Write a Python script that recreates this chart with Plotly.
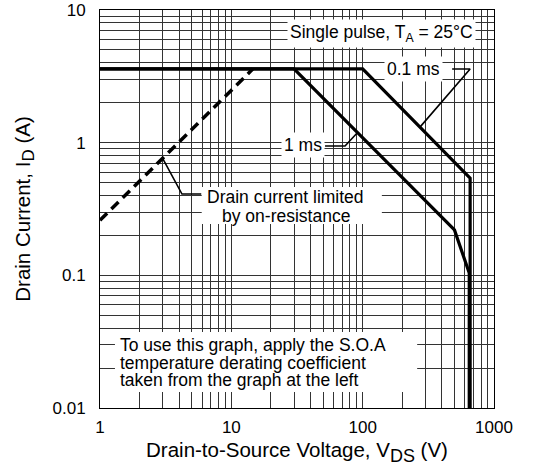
import math
import plotly.graph_objects as go

# ---- data ----
rds_x = [1, 14.6]          # drain current limited by on-resistance (dashed)
rds_y = [0.26, 3.6]

ms01_x = [1, 100, 658, 658]   # 0.1 ms boundary
ms01_y = [3.6, 3.6, 0.54, 0.01]

ms1_x = [1, 30, 500, 648, 648]  # 1 ms boundary
ms1_y = [3.6, 3.6, 0.22, 0.104, 0.01]

# leader lines for the labels
lead_rds_x = [3.02, 4.21, 5.9]
lead_rds_y = [0.753, 0.41, 0.41]
lead_1ms_x = [51.7, 73.4, 92.2]
lead_1ms_y = [0.944, 0.944, 1.205]
lead_01ms_x = [480, 658, 273]
lead_01ms_y = [3.59, 3.59, 1.31]

x_ticks = [m * 10 ** e for e in range(0, 3) for m in range(1, 10)] + [1000]
y_ticks = [round(m * 10 ** e, 6) for e in range(-2, 1) for m in range(1, 10)] + [10]
x_labels = {1: "1", 10: "10", 100: "100", 1000: "1000"}
y_labels = {0.01: "0.01", 0.1: "0.1", 1: "1", 10: "10"}

note_lines = ["To use this graph, apply the S.O.A",
              "temperature derating coefficient",
              "taken from the graph at the left"]
note_y = [0.0299, 0.0219, 0.0163]
rds_lines = ["Drain current limited", "by on-resistance"]
rds_text_y = [0.39, 0.28]

FONT = "Liberation Sans, Arial, sans-serif"
AFS = 17.5

fig = go.Figure()
fig.add_trace(go.Scatter(x=rds_x, y=rds_y, mode="lines",
                         line=dict(color="black", width=3.5, dash="10px,6px")))
fig.add_trace(go.Scatter(x=ms01_x, y=ms01_y, mode="lines",
                         line=dict(color="black", width=3.2)))
fig.add_trace(go.Scatter(x=ms1_x, y=ms1_y, mode="lines",
                         line=dict(color="black", width=3.2)))
for lx, ly in [(lead_rds_x, lead_rds_y), (lead_1ms_x, lead_1ms_y), (lead_01ms_x, lead_01ms_y)]:
    fig.add_trace(go.Scatter(x=lx, y=ly, mode="lines",
                             line=dict(color="black", width=1.6)))

# white boxes behind multi-line labels (between grid and traces)
fig.add_shape(type="rect", xref="x", yref="y", x0=1.30, x1=260, y0=0.0132, y1=0.0374,
              fillcolor="white", line_width=0, layer="between")
fig.add_shape(type="rect", xref="x", yref="y", x0=5.95, x1=140, y0=0.244, y1=0.464,
              fillcolor="white", line_width=0, layer="between")

def ann(x, y, text, xanchor="center", bg="white"):
    fig.add_annotation(x=math.log10(x), y=math.log10(y), xref="x", yref="y", text=text,
                       showarrow=False, bgcolor=bg, borderpad=2, xanchor=xanchor,
                       font=dict(family=FONT, size=AFS, color="black"))

ann(140, 6.6, "Single pulse, T<sub>A</sub> = 25°C")
ann(242, 3.59, "0.1 ms")
ann(35.2, 0.96, "1 ms")
for t, yy in zip(rds_lines, rds_text_y):
    ann(26, yy, t, bg="rgba(0,0,0,0)")
for t, yy in zip(note_lines, note_y):
    ann(1.347, yy, t, xanchor="left", bg="rgba(0,0,0,0)")

axis_common = dict(type="log", showgrid=True, gridcolor="#333", gridwidth=1,
                   showline=True, linecolor="black", linewidth=1, mirror=True,
                   ticks="", zeroline=False, automargin=False,
                   tickfont=dict(family=FONT, size=17, color="black"))

fig.update_xaxes(**axis_common, range=[0, 3], tickvals=x_ticks,
                 ticktext=[x_labels.get(v, "") for v in x_ticks], ticklabelstandoff=4,
                 title=dict(text="Drain-to-Source Voltage, V<sub><span style='font-size:18px'>DS</span></sub> (V)",
                            font=dict(family=FONT, size=20.5, color="black"), standoff=6))
fig.update_yaxes(**axis_common, range=[-2, 1], tickvals=y_ticks,
                 ticktext=[y_labels.get(v, "") for v in y_ticks], ticklabelstandoff=10,
                 title=dict(text="Drain Current, I<sub><span style='font-size:17px'>D</span></sub> (A)",
                            font=dict(family=FONT, size=20.5, color="black"), standoff=16))

fig.update_layout(width=533, height=468, showlegend=False,
                  margin=dict(l=100, r=39, t=10, b=60),
                  plot_bgcolor="white", paper_bgcolor="white")

fig.write_html("out.html")
